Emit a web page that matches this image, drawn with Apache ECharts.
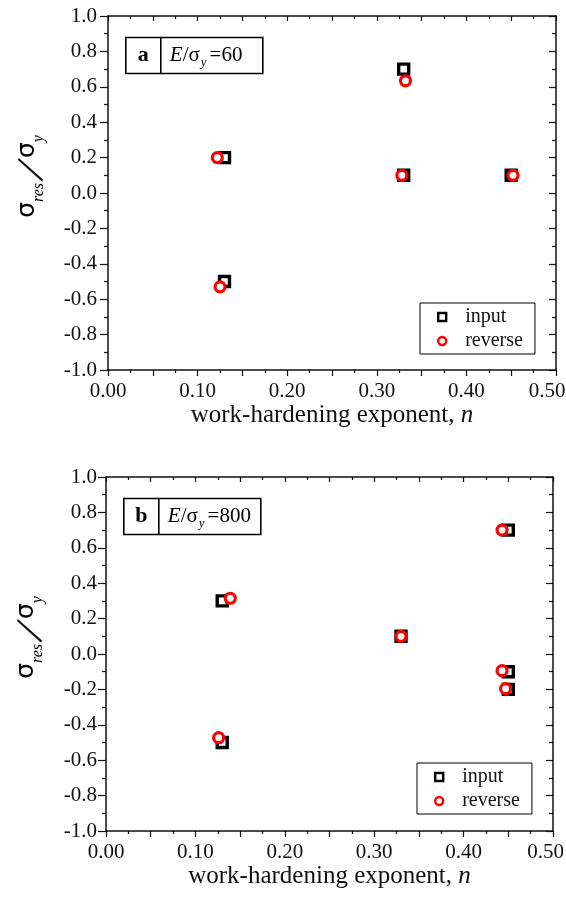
<!DOCTYPE html>
<html>
<head>
<meta charset="utf-8">
<script src="https://cdn.jsdelivr.net/npm/echarts@6/dist/echarts.min.js"></script>
<style>
  html, body { margin: 0; padding: 0; background: #fff; }
  #chart { width: 566px; height: 899px; }
</style>
</head>
<body>
<div id="chart"></div>
<script>
// Residual stress ratio vs work-hardening exponent n, for two E/σy values.
// Panel (a): E/σy = 60
const inputA   = [[0.13, 0.2], [0.13, -0.5], [0.33, 0.7], [0.33, 0.1], [0.45, 0.1]];
const reverseA = [[0.122, 0.2], [0.125, -0.53], [0.332, 0.634], [0.328, 0.1], [0.452, 0.1]];
// Panel (b): E/σy = 800
const inputB   = [[0.13, 0.3], [0.13, -0.5], [0.33, 0.1], [0.45, 0.7], [0.45, -0.1], [0.45, -0.2]];
const reverseB = [[0.139, 0.315], [0.126, -0.473], [0.33, 0.1], [0.443, 0.7], [0.443, -0.094], [0.447, -0.196]];

const seriesNames = ['input', 'reverse'];
const panelLetters = ['a', 'b'];
const modulusRatios = ['60', '800'];
const xRange = [0, 0.5];
const yRange = [-1, 1];

const SERIF = 'Liberation Serif';
const INK = '#111';
const TICK_FONT = 21;

const grids = [
  { left: 108, top: 16, width: 448, height: 354 },
  { left: 106, top: 477, width: 447, height: 354 }
];
const lastLabelPad = [18, 15];

function xLabel(v) {
  const k = Math.round(v * 20);
  if (k % 2) return '';
  const s = (k / 20).toFixed(2);
  return k === 10 ? '{last|' + s + '}' : s;
}
function yLabel(v) {
  const r = Math.abs(v) < 1e-9 ? 0 : v;
  return r.toFixed(1);
}

const xAxes = [], yAxes = [];
grids.forEach(function (g, i) {
  const lineStyle = { color: INK, width: 1.5 };
  const tickStyle = { color: INK, width: 1.2 };
  // bottom axis with labels and name
  xAxes.push({
    gridIndex: i, type: 'value', position: 'bottom', min: xRange[0], max: xRange[1], interval: 0.05,
    axisLine: { show: true, onZero: false, lineStyle: lineStyle },
    axisTick: { show: true, inside: false, length: 6, lineStyle: tickStyle },
    minorTick: { show: true, splitNumber: 2, length: 3, lineStyle: tickStyle },
    splitLine: { show: false },
    axisLabel: {
      margin: 11, fontFamily: SERIF, fontSize: TICK_FONT, color: INK, formatter: xLabel,
      rich: { last: { fontFamily: SERIF, fontSize: TICK_FONT, color: INK, padding: [0, lastLabelPad[i], 0, 0] } }
    },
    name: '{t|work-hardening exponent, }{i|n}',
    nameLocation: 'middle', nameGap: 31,
    nameTextStyle: {
      rich: {
        t: { fontFamily: SERIF, fontSize: 25, color: INK },
        i: { fontFamily: SERIF, fontSize: 25, fontStyle: 'italic', color: INK }
      }
    }
  });
  // top mirror axis, ticks pointing inward
  xAxes.push({
    gridIndex: i, type: 'value', position: 'top', min: xRange[0], max: xRange[1], interval: 0.05,
    axisLine: { show: true, onZero: false, lineStyle: lineStyle },
    axisTick: { show: true, inside: true, length: 5, lineStyle: tickStyle },
    minorTick: { show: true, splitNumber: 2, length: 3, lineStyle: tickStyle },
    splitLine: { show: false },
    axisLabel: { show: false }
  });
  // left axis with labels
  yAxes.push({
    gridIndex: i, type: 'value', position: 'left', min: yRange[0], max: yRange[1], interval: 0.2,
    axisLine: { show: true, onZero: false, lineStyle: lineStyle },
    axisTick: { show: true, inside: false, length: 8, lineStyle: tickStyle },
    minorTick: { show: true, splitNumber: 2, length: 4, lineStyle: tickStyle },
    splitLine: { show: false },
    axisLabel: { margin: i === 0 ? 11 : 9, fontFamily: SERIF, fontSize: TICK_FONT, color: INK, formatter: yLabel }
  });
  // right mirror axis, ticks pointing inward
  yAxes.push({
    gridIndex: i, type: 'value', position: 'right', min: yRange[0], max: yRange[1], interval: 0.2,
    axisLine: { show: true, onZero: false, lineStyle: lineStyle },
    axisTick: { show: true, inside: true, length: 7, lineStyle: tickStyle },
    minorTick: { show: true, splitNumber: 2, length: 4, lineStyle: tickStyle },
    splitLine: { show: false },
    axisLabel: { show: false }
  });
});

const panelData = [[inputA, reverseA], [inputB, reverseB]];
const markerStyles = [
  { symbol: 'rect', itemStyle: { color: '#fff', borderColor: '#000', borderWidth: 3.4, opacity: 1 } },
  { symbol: 'circle', itemStyle: { color: '#fff', borderColor: '#ff0000', borderWidth: 3.2, opacity: 1 } }
];
const series = [];
panelData.forEach(function (pair, i) {
  pair.forEach(function (data, k) {
    series.push({
      name: seriesNames[k], type: 'scatter',
      xAxisIndex: i * 2, yAxisIndex: i * 2,
      data: data,
      symbol: markerStyles[k].symbol, symbolSize: 10,
      itemStyle: markerStyles[k].itemStyle,
      emphasis: { disabled: true },
      z: 2 + k
    });
  });
});

const legendBoxes = [
  { left: 420, top: 303 },
  { left: 417, top: 763 }
];
const legends = legendBoxes.map(function (b) {
  return {
    data: seriesNames, orient: 'vertical', left: b.left, top: b.top,
    padding: [4, 12, 3, 17], itemWidth: 8, itemHeight: 8, itemGap: 4,
    borderColor: '#000', borderWidth: 1, backgroundColor: '#fff',
    selectedMode: false,
    itemStyle: { borderWidth: 2.4 },
    textStyle: { fontFamily: SERIF, fontSize: 20, color: INK, padding: [0, 0, 0, 14] }
  };
});

// rotated y-axis title: σres / σy, built from three pieces along the rotated baseline
const titleRich = {
  s: { fontFamily: 'DejaVu Sans', fontSize: 25, color: INK, lineHeight: 40 },
  sub: { fontFamily: SERIF, fontStyle: 'italic', fontSize: 16, color: INK, lineHeight: 30, verticalAlign: 'bottom' }
};
const yTitlePos = [{ x: 27, y: 172 }, { x: 26, y: 633 }];

const boxRich = {
  b: { fontFamily: SERIF, fontSize: 22, fontWeight: 'bold', color: INK, lineHeight: 28 },
  i: { fontFamily: SERIF, fontSize: 21, fontStyle: 'italic', color: INK, lineHeight: 28 },
  n: { fontFamily: SERIF, fontSize: 21, color: INK, lineHeight: 28 },
  y: { fontFamily: SERIF, fontSize: 13, fontStyle: 'italic', color: INK, lineHeight: 10, verticalAlign: 'bottom', padding: [0, 3, 0, 1] }
};

const annotationBoxes = [
  { x: 125, y: 35, w: 137, h: 36, div: 35 },
  { x: 123, y: 496, w: 137, h: 36, div: 35 }
];

const graphics = [];
annotationBoxes.forEach(function (b, i) {
  graphics.push({
    type: 'group', left: b.x, top: b.y,
    children: [
      { type: 'rect', shape: { x: 0, y: 0, width: b.w, height: b.h }, style: { fill: '#fff', stroke: '#000', lineWidth: 1.6 } },
      { type: 'line', shape: { x1: b.div, y1: 0, x2: b.div, y2: b.h }, style: { stroke: '#000', lineWidth: 1.6 } },
      { type: 'text', x: b.div / 2, y: b.h / 2,
        style: { text: '{b|' + panelLetters[i] + '}', rich: boxRich, align: 'center', verticalAlign: 'middle' } },
      { type: 'text', x: b.div + 9, y: b.h / 2,
        style: { text: '{i|E}{n|/σ}{y|y}{n|=' + modulusRatios[i] + '}', rich: boxRich, align: 'left', verticalAlign: 'middle' } }
    ],
    z: 10
  });
});
yTitlePos.forEach(function (p) {
  graphics.push({
    type: 'group', x: p.x, y: p.y, rotation: Math.PI / 2,
    children: [
      { type: 'text', x: -11, y: 0,
        style: { text: '{s|σ}{sub|res}', rich: titleRich, align: 'right', verticalAlign: 'middle' } },
      { type: 'text', x: 1, y: 6, rotation: -0.4,
        style: { text: '/', fontFamily: SERIF, fontSize: 46, fill: INK, align: 'center', verticalAlign: 'middle' } },
      { type: 'text', x: 14, y: 0,
        style: { text: '{s|σ}{sub|y}', rich: titleRich, align: 'left', verticalAlign: 'middle' } }
    ],
    z: 10
  });
});

const chart = echarts.init(document.getElementById('chart'), null, { renderer: 'canvas' });
chart.setOption({
  animation: false,
  backgroundColor: '#fff',
  grid: grids.map(function (g) { return Object.assign({ containLabel: false, outerBoundsMode: 'none' }, g); }),
  xAxis: xAxes,
  yAxis: yAxes,
  legend: legends,
  series: series,
  graphic: graphics
});
</script>
</body>
</html>
